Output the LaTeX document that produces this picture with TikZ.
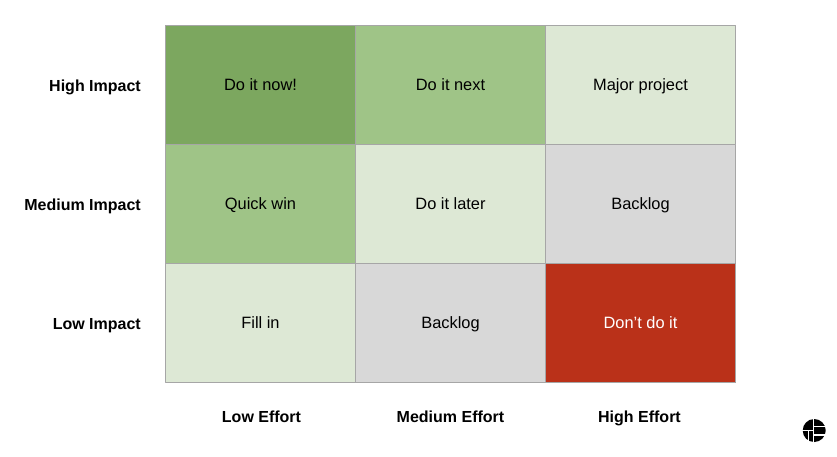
\documentclass[tikz,border=0pt]{standalone}
\usepackage{fontspec}
\setmainfont{Liberation Sans}
\definecolor{darkgreen}{HTML}{7CA75F}
\definecolor{midgreen}{HTML}{9FC487}
\definecolor{palegreen}{HTML}{DDE8D5}
\definecolor{backloggray}{HTML}{D8D8D8}
\definecolor{doitred}{HTML}{BA3119}
\definecolor{gridgray}{HTML}{A6A6A6}
\begin{document}
\begin{tikzpicture}[x=1pt,y=-1pt,line join=round,
	cell/.style={draw=gridgray,line width=1pt,minimum width=190pt,minimum height=119.2pt,inner sep=0pt,text height=11.7pt,text depth=0pt,font=\fontsize{16.4}{20}\selectfont,text=black},
	head/.style={inner sep=0pt,text height=11.2pt,text depth=0pt,font=\fontsize{16}{18}\selectfont\bfseries}]
	\useasboundingbox (0,0) rectangle (837,456);
	\foreach \n/\x/\y/\c/\t in {
		a/260.5/84.6/darkgreen/{Do it now!},
		b/450.5/84.6/midgreen/{Do it next},
		c/640.5/84.6/palegreen/{Major project},
		d/260.5/203.8/midgreen/{Quick win},
		e/450.5/203.8/palegreen/{Do it later},
		f/640.5/203.8/backloggray/{Backlog},
		g/260.5/323/palegreen/{Fill in},
		h/450.5/323/backloggray/{Backlog}}
	\node[cell,fill=\c] (\n) at (\x,\y) {\t};
	\node[cell,fill=doitred,text=white] (i) at (640.5,323) {Don’t do it};
	\foreach \n/\y/\t in {high/85.5/High Impact,medium/204.5/Medium Impact,low/323.5/Low Impact}
	\node[head,anchor=east] (\n) at (141,\y) {\t};
	\foreach \n/\x/\t in {loweff/261.5/Low Effort,mideff/450.5/Medium Effort,higheff/639.5/High Effort}
	\node[head] (\n) at (\x,416.5) {\t};
	% logo
	\fill (814.2,430.5) circle (11.5);
	\draw[white,line width=1.2pt] (813.5,418.5)--(813.5,442.5)
	(802,430.5)--(813.5,430.5)
	(808.8,430.5)--(808.8,442.5)
	(813.5,426.5)--(826,426.5)
	(813.5,435)--(826,435);
\end{tikzpicture}
\end{document}
